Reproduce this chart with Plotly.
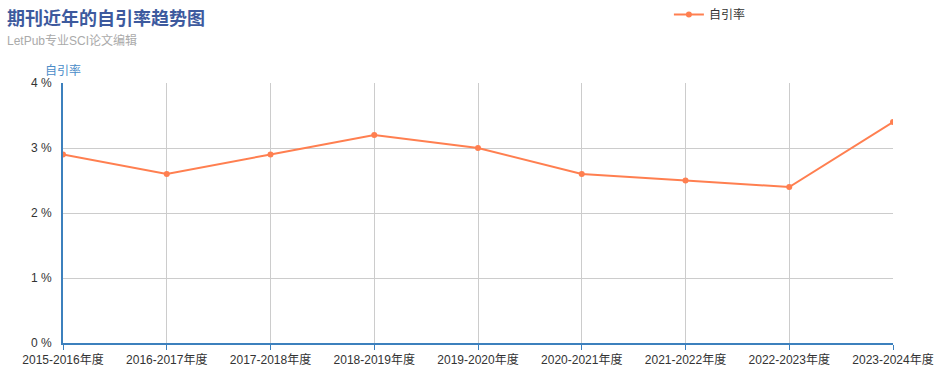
import plotly.graph_objects as go

categories = ["2015-2016年度", "2016-2017年度", "2017-2018年度", "2018-2019年度",
              "2019-2020年度", "2020-2021年度", "2021-2022年度", "2022-2023年度",
              "2023-2024年度"]
self_cite_rate = [2.9, 2.6, 2.9, 3.2, 3.0, 2.6, 2.5, 2.4, 3.4]
y_ticks = [0, 1, 2, 3, 4]
y_tick_text = ["0 %", "1 %", "2 %", "3 %", "4 %"]

FONT = "Liberation Sans, Arial, Noto Sans CJK SC, sans-serif"
TFONT = "Noto Sans CJK SC, Microsoft YaHei, sans-serif"
ORANGE = "#ff7f50"
BLUE = "#3c80bd"

fig = go.Figure()
fig.add_trace(go.Scatter(
    x=categories, y=self_cite_rate, mode="lines+markers", name="自引率",
    line=dict(color=ORANGE, width=2), marker=dict(color=ORANGE, size=6),
    hovertemplate="%{x}<br>%{y} %<extra></extra>",
))

fig.update_layout(
    width=942, height=372,
    margin=dict(l=63, r=49, t=83, b=29, autoexpand=False),
    plot_bgcolor="white", paper_bgcolor="white",
    font=dict(family=FONT, size=12, color="#333"),
    showlegend=True,
    legend=dict(orientation="h", x=0.73, xanchor="left", y=1.0, yanchor="top",
                yref="container", font=dict(size=12, color="#333", family=FONT),
                bgcolor="rgba(0,0,0,0)"),
    xaxis=dict(type="category", range=[0, len(categories) - 1], automargin=False,
               showgrid=True, gridcolor="#cccccc", gridwidth=1,
               showline=True, linecolor=BLUE, linewidth=2,
               ticks="outside", ticklen=5, tickcolor=BLUE,
               tickfont=dict(size=12, color="#333"), zeroline=False),
    yaxis=dict(range=[0, 4], tickmode="array", tickvals=y_ticks, ticktext=y_tick_text,
               automargin=False, ticklabelstandoff=7,
               showgrid=True, gridcolor="#cccccc", gridwidth=1,
               showline=True, linecolor=BLUE, linewidth=2,
               ticks="", tickfont=dict(size=12, color="#333"), zeroline=False),
    annotations=[
        dict(text="<b>期刊近年的自引率趋势图</b>", xref="paper", yref="paper",
             x=-58 / 830, y=1 + 66 / 260, xanchor="left", yanchor="middle",
             showarrow=False, font=dict(size=18, color="#3d5a9e", family=TFONT)),
        dict(text="LetPub专业SCI论文编辑", xref="paper", yref="paper",
             x=-58 / 830, y=1 + 42 / 260, xanchor="left", yanchor="middle",
             showarrow=False, font=dict(size=12, color="#aaaaaa", family=FONT)),
        dict(text="自引率", xref="paper", yref="paper",
             x=0, y=1 + 12 / 260, xanchor="center", yanchor="middle",
             showarrow=False, font=dict(size=12, color="#4a8cc8", family=FONT)),
    ],
)

fig.write_html("out.html")
